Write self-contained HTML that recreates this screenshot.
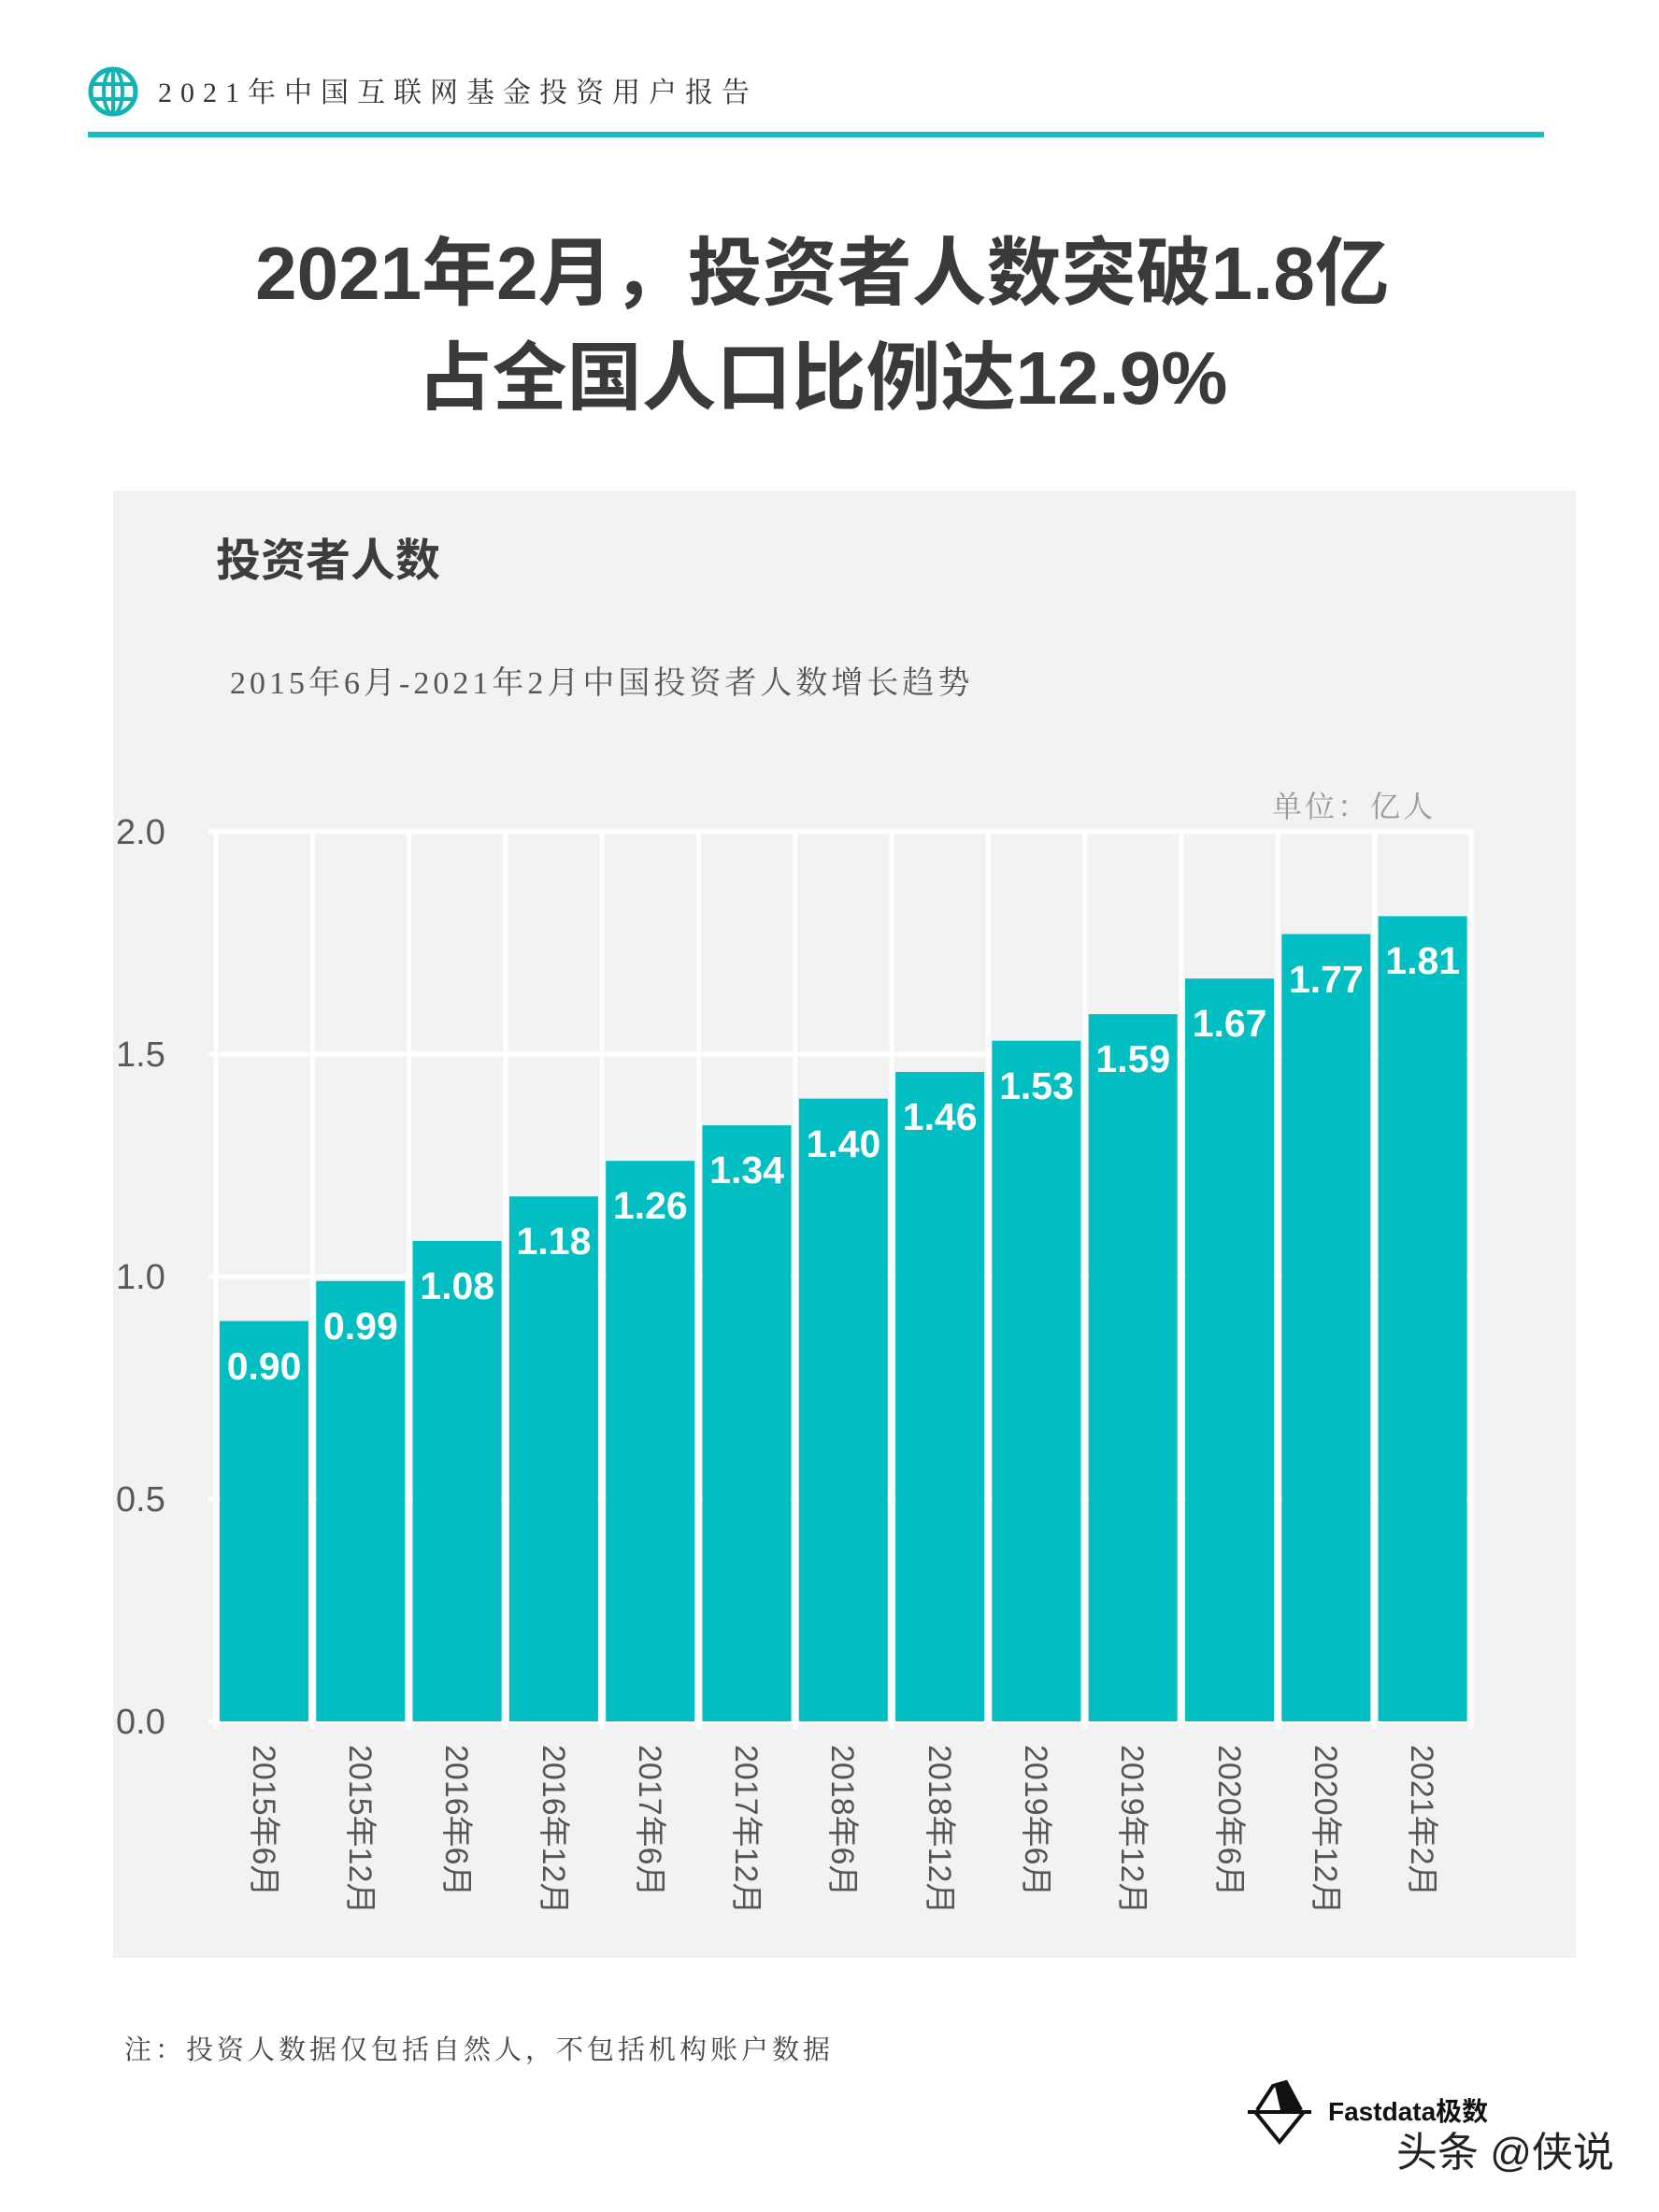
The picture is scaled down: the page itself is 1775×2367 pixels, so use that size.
<!DOCTYPE html>
<html><head><meta charset="utf-8"><style>
html,body{margin:0;padding:0;background:#fff;}
svg{display:block;}
</style></head><body>
<svg width="1775" height="2367" viewBox="0 0 1775 2367" xmlns="http://www.w3.org/2000/svg" font-family="Liberation Sans, Noto Sans CJK SC, sans-serif">
<!-- header -->
<circle cx="121" cy="98" r="24" fill="none" stroke="#14b3b3" stroke-width="5"/>
<ellipse cx="121" cy="98" rx="10" ry="24" fill="none" stroke="#14b3b3" stroke-width="4"/>
<line x1="97" y1="90" x2="145" y2="90" stroke="#14b3b3" stroke-width="4"/>
<line x1="97" y1="106" x2="145" y2="106" stroke="#14b3b3" stroke-width="4"/>
<line x1="121" y1="74" x2="121" y2="122" stroke="#14b3b3" stroke-width="4"/>
<text x="169" y="109" font-size="30" fill="#333" letter-spacing="9" font-family="Liberation Serif, Noto Serif CJK SC, serif">2021年中国互联网基金投资用户报告</text>
<rect x="94" y="141" width="1558" height="6" fill="#1bbcc0"/>
<!-- title -->
<text x="880" y="320" font-size="80" font-weight="bold" fill="#3a3a3a" text-anchor="middle">2021年2月，投资者人数突破1.8亿</text>
<text x="880" y="432" font-size="80" font-weight="bold" fill="#3a3a3a" text-anchor="middle">占全国人口比例达12.9%</text>
<!-- panel -->
<rect x="121" y="525" width="1565" height="1570" fill="#f2f2f2"/>
<text x="231" y="616" font-size="48" font-weight="bold" fill="#3d3d3d">投资者人数</text>
<text x="246" y="742" font-size="34" fill="#555" letter-spacing="4" font-family="Liberation Serif, Noto Serif CJK SC, serif">2015年6月-2021年2月中国投资者人数增长趋势</text>
<text x="1361" y="874" font-size="32" fill="#999" font-family="Liberation Serif, Noto Serif CJK SC, serif" letter-spacing="3">单位：亿人</text>
<!-- grid -->
<g stroke="#fff" stroke-width="5">
<line x1="223" y1="890" x2="1576" y2="890"/>
<line x1="223" y1="1128" x2="1576" y2="1128"/>
<line x1="223" y1="1366" x2="1576" y2="1366"/>
<line x1="223" y1="1604" x2="1576" y2="1604"/>
<line x1="223" y1="1842" x2="1576" y2="1842"/>
<line x1="231" y1="890" x2="231" y2="1850"/>
<line x1="334.3" y1="890" x2="334.3" y2="1850"/>
<line x1="437.6" y1="890" x2="437.6" y2="1850"/>
<line x1="540.9" y1="890" x2="540.9" y2="1850"/>
<line x1="644.2" y1="890" x2="644.2" y2="1850"/>
<line x1="747.5" y1="890" x2="747.5" y2="1850"/>
<line x1="850.8" y1="890" x2="850.8" y2="1850"/>
<line x1="954.1" y1="890" x2="954.1" y2="1850"/>
<line x1="1057.4" y1="890" x2="1057.4" y2="1850"/>
<line x1="1160.7" y1="890" x2="1160.7" y2="1850"/>
<line x1="1264" y1="890" x2="1264" y2="1850"/>
<line x1="1367.3" y1="890" x2="1367.3" y2="1850"/>
<line x1="1470.6" y1="890" x2="1470.6" y2="1850"/>
<line x1="1573.9" y1="890" x2="1573.9" y2="1850"/>
</g>
<g font-size="38" fill="#595959">
<text x="124" y="903">2.0</text>
<text x="124" y="1141">1.5</text>
<text x="124" y="1379">1.0</text>
<text x="124" y="1617">0.5</text>
<text x="124" y="1855">0.0</text>
</g>
<!-- bars -->
<g fill="#00bec2">
<rect x="235" y="1413.6" width="95" height="428.4"/>
<rect x="338.3" y="1370.8" width="95" height="471.2"/>
<rect x="441.6" y="1327.9" width="95" height="514.1"/>
<rect x="544.9" y="1280.3" width="95" height="561.7"/>
<rect x="648.2" y="1242.2" width="95" height="599.8"/>
<rect x="751.5" y="1204.2" width="95" height="637.8"/>
<rect x="854.8" y="1175.6" width="95" height="666.4"/>
<rect x="958.1" y="1147" width="95" height="695"/>
<rect x="1061.4" y="1113.7" width="95" height="728.3"/>
<rect x="1164.7" y="1085.2" width="95" height="756.8"/>
<rect x="1268" y="1047.1" width="95" height="794.9"/>
<rect x="1371.3" y="999.5" width="95" height="842.5"/>
<rect x="1474.6" y="980.4" width="95" height="861.6"/>
</g>
<g font-size="41" font-weight="bold" fill="#fff" text-anchor="middle">
<text x="282.6" y="1476">0.90</text>
<text x="385.9" y="1433">0.99</text>
<text x="489.2" y="1390">1.08</text>
<text x="592.5" y="1342">1.18</text>
<text x="695.8" y="1304">1.26</text>
<text x="799.1" y="1266">1.34</text>
<text x="902.4" y="1238">1.40</text>
<text x="1005.7" y="1209">1.46</text>
<text x="1109" y="1176">1.53</text>
<text x="1212.3" y="1147">1.59</text>
<text x="1315.6" y="1109">1.67</text>
<text x="1418.9" y="1062">1.77</text>
<text x="1522.2" y="1042">1.81</text>
</g>
<!-- x labels -->
<g font-size="34" fill="#555">
<text transform="translate(271,1867) rotate(90)">2015年6月</text>
<text transform="translate(374,1867) rotate(90)">2015年12月</text>
<text transform="translate(477,1867) rotate(90)">2016年6月</text>
<text transform="translate(581,1867) rotate(90)">2016年12月</text>
<text transform="translate(684,1867) rotate(90)">2017年6月</text>
<text transform="translate(787,1867) rotate(90)">2017年12月</text>
<text transform="translate(890,1867) rotate(90)">2018年6月</text>
<text transform="translate(994,1867) rotate(90)">2018年12月</text>
<text transform="translate(1097,1867) rotate(90)">2019年6月</text>
<text transform="translate(1200,1867) rotate(90)">2019年12月</text>
<text transform="translate(1304,1867) rotate(90)">2020年6月</text>
<text transform="translate(1407,1867) rotate(90)">2020年12月</text>
<text transform="translate(1510,1867) rotate(90)">2021年2月</text>
</g>
<!-- footer -->
<text x="133" y="2203" font-size="29" fill="#444" letter-spacing="4" font-family="Liberation Serif, Noto Serif CJK SC, serif">注：投资人数据仅包括自然人，不包括机构账户数据</text>
<g stroke="#111" stroke-width="4" fill="none">
<line x1="1335" y1="2260" x2="1403" y2="2260"/>
<path d="M1343 2260 L1369 2292 L1395 2260"/>
<path d="M1345 2258 L1362 2232 L1376 2228 L1392 2258"/>
</g>
<path d="M1364 2232 L1376 2228 L1392 2258 L1370 2258 Z" fill="#111"/>
<text x="1421" y="2269" font-size="28" fill="#111" font-weight="bold">Fastdata极数</text>
<text x="1494" y="2318" font-size="44" fill="#222">头条 @侠说</text>
</svg>
</body></html>
